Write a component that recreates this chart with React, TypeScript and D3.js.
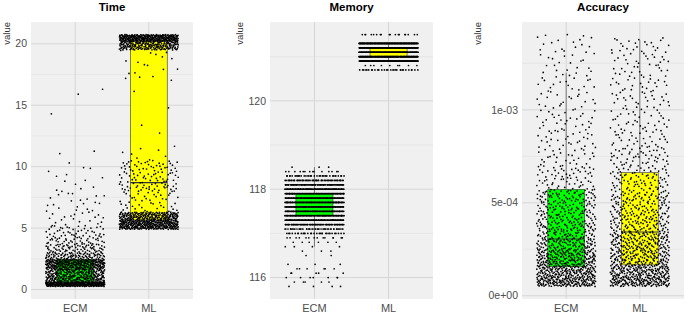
import React from "react";
import * as d3 from "d3";

// ---------- DATA ----------
const categories = ["ECM", "ML"];

// Time: bins [lo, hi, count]
const timeECMBins: [number, number, number][] = [
  [0.25, 0.6, 300], [0.6, 1.1, 150], [1.1, 1.7, 150], [1.7, 2.1, 150], [2.1, 2.45, 150],
  [2.45, 3.0, 90], [3.0, 3.7, 70], [3.7, 4.5, 50], [4.5, 5.2, 30], [5.2, 6.5, 22],
  [6.5, 8.0, 18], [8.0, 10.0, 12], [10.0, 11.5, 3],
  [14.3, 14.3, 1], [15.9, 15.9, 1], [16.3, 16.3, 1],
];
const timeMLBins: [number, number, number][] = [
  [4.9, 5.65, 320], [5.65, 6.3, 200], [6.3, 8.0, 45], [8.0, 8.7, 35],
  [8.7, 10.5, 75], [10.5, 11.7, 8], [11.7, 17.0, 4], [17.0, 19.5, 18], [19.5, 20.2, 195],
  [20.2, 20.75, 300],
];
// Memory: discrete rows [value, count]
const memECMRows: [number, number][] = [
  [118.5, 3], [118.4, 14], [118.3, 35], [118.2, 55], [118.1, 75], [118.0, 85], [117.9, 85],
  [117.8, 85], [117.7, 85], [117.6, 85], [117.5, 85], [117.4, 85], [117.3, 85], [117.2, 75],
  [117.1, 45], [117.0, 30], [116.9, 14], [116.8, 6], [116.7, 4], [116.6, 3], [116.5, 2],
  [116.3, 3], [116.2, 6], [116.1, 5], [116.0, 7], [115.9, 5], [115.8, 4],
];
const memMLRows: [number, number][] = [
  [121.5, 18], [121.3, 160], [121.2, 160], [121.1, 160], [121.0, 160], [120.9, 160], [120.8, 9], [120.7, 30],
];
// Accuracy bins (values in units of 1e-4)
const accECMBins: [number, number, number][] = [
  [0.5, 1.0, 160], [1.0, 1.6, 160], [1.6, 2.0, 100], [2.0, 2.5, 110], [2.5, 3.05, 90],
  [3.05, 4.0, 120], [4.0, 5.0, 100], [5.0, 5.7, 70], [5.7, 7.0, 65], [7.0, 8.5, 45],
  [8.5, 10.0, 42], [10.0, 12.0, 42], [12.0, 14.1, 36],
];
const accMLBins: [number, number, number][] = [
  [0.5, 1.0, 150], [1.0, 1.66, 160], [1.66, 2.2, 100], [2.2, 2.8, 100], [2.8, 3.43, 100],
  [3.43, 4.5, 120], [4.5, 5.5, 100], [5.5, 6.62, 80], [6.62, 8.0, 70], [8.0, 9.5, 52],
  [9.5, 11.0, 45], [11.0, 12.5, 42], [12.5, 13.9, 40],
];

// Box stats [whiskerLow, Q1, median, Q3, whiskerHigh]
const timeBox = [[0.25, 0.6, 1.65, 2.45, 5.0], [4.9, 5.65, 8.7, 20.2, 20.75]];
const memBox = [[116.7, 117.4, 117.7, 117.9, 118.5], [120.9, 121.0, 121.1, 121.2, 121.3]];
const accBox = [[0.5e-4, 1.57e-4, 3.05e-4, 5.72e-4, 1.2e-3], [0.5e-4, 1.66e-4, 3.43e-4, 6.62e-4, 1.375e-3]];

const timeTicks = [0, 5, 10, 15, 20];
const timeMinor = [2.5, 7.5, 12.5, 17.5];
const memTicks = [116, 118, 120];
const memMinor = [117, 119, 121];
const accTicks = [0, 5e-4, 1e-3];
const accMinor = [2.5e-4, 7.5e-4, 1.25e-3];
const accTickLabels = ["0e+00", "5e-04", "1e-03"];
const titles = ["Time", "Memory", "Accuracy"];
const boxColors = ["#00FF00", "#FFFF00"];

// ---------- helpers (deterministic leaped-Halton jitter placement) ----------
function halton(i: number, b: number) {
  let f = 1, r = 0;
  while (i > 0) { f /= b; r += f * (i % b); i = Math.floor(i / b); }
  return r;
}
const LEAP = 31;
type Pt = { c: number; v: number; j: number };
function fromBins(bins: [number, number, number][], c: number, scale: number, seed: number): Pt[] {
  const out: Pt[] = [];
  let k = seed;
  bins.forEach(([lo, hi, n]) => {
    for (let i = 0; i < n; i++) {
      k++;
      const idx = k * LEAP;
      out.push({ c, v: (lo + (hi - lo) * halton(idx, 2)) * scale, j: halton(idx, 3) * 2 - 1 });
    }
  });
  return out;
}
function fromRows(rows: [number, number][], c: number, seed: number): Pt[] {
  const out: Pt[] = [];
  let k = seed;
  rows.forEach(([v, n]) => {
    for (let i = 0; i < n; i++) { k++; out.push({ c, v, j: halton(k * LEAP, 3) * 2 - 1 }); }
  });
  return out;
}

const panels = [
  {
    x0: 31, x1: 193, yTitleX: 10,
    points: [...fromBins(timeECMBins, 1, 1, 10), ...fromBins(timeMLBins, 2, 1, 5000)],
    box: timeBox, ticks: timeTicks, minor: timeMinor, labels: timeTicks.map(String),
  },
  {
    x0: 270, x1: 433, yTitleX: 243,
    points: [...fromRows(memECMRows, 1, 20), ...fromRows(memMLRows, 2, 3000)],
    box: memBox, ticks: memTicks, minor: memMinor, labels: memTicks.map(String),
  },
  {
    x0: 522, x1: 684, yTitleX: 481,
    points: [...fromBins(accECMBins, 1, 1e-4, 30), ...fromBins(accMLBins, 2, 1e-4, 7000)],
    box: accBox, ticks: accTicks, minor: accMinor, labels: accTickLabels,
  },
];

const TOP = 22, BOTTOM = 299;
const FONT = "'Liberation Sans', Arial, sans-serif";

export default function App() {
  return (
    <svg width={685} height={314} style={{ position: "absolute", left: 0, top: 0, background: "#fff" }} fontFamily={FONT}>
      {panels.map((p, pi) => {
        const ext = d3.extent(p.points, (d) => d.v) as [number, number];
        const r = ext[1] - ext[0];
        const y = d3.scaleLinear().domain([ext[0] - 0.05 * r, ext[1] + 0.05 * r]).range([BOTTOM, TOP]);
        const x = d3.scaleLinear().domain([0.4, 2.6]).range([p.x0, p.x1]);
        const bw = 0.25;
        return (
          <g key={pi}>
            <rect x={p.x0} y={TOP} width={p.x1 - p.x0} height={BOTTOM - TOP} fill="#F0F0F0" />
            {p.minor.map((t) => (
              <line key={"m" + t} x1={p.x0} x2={p.x1} y1={y(t)} y2={y(t)} stroke="#E0E0E0" strokeWidth={0.6} />
            ))}
            {p.ticks.map((t) => (
              <line key={"t" + t} x1={p.x0} x2={p.x1} y1={y(t)} y2={y(t)} stroke="#D6D6D6" strokeWidth={1} />
            ))}
            {categories.map((c, ci) => (
              <line key={c} x1={x(ci + 1)} x2={x(ci + 1)} y1={TOP} y2={BOTTOM} stroke="#D6D6D6" strokeWidth={1} />
            ))}
            {p.box.map((b, ci) => {
              const cx = x(ci + 1);
              return (
                <g key={"b" + ci}>
                  <line x1={cx} x2={cx} y1={y(b[0])} y2={y(b[1])} stroke="#333" strokeWidth={0.6} />
                  <line x1={cx} x2={cx} y1={y(b[3])} y2={y(b[4])} stroke="#333" strokeWidth={0.6} />
                  <rect x={x(ci + 1 - bw)} width={x(ci + 1 + bw) - x(ci + 1 - bw)} y={y(b[3])} height={y(b[1]) - y(b[3])}
                    fill={boxColors[ci]} stroke="#333" strokeWidth={0.6} />
                  <line x1={x(ci + 1 - bw)} x2={x(ci + 1 + bw)} y1={y(b[2])} y2={y(b[2])} stroke="#333" strokeWidth={1.1} />
                </g>
              );
            })}
            {p.points.map((d, i) => (
              <circle key={i} cx={x(d.c + d.j * 0.4)} cy={y(d.v)} r={0.85} fill="#000" />
            ))}
            {p.ticks.map((t, ti) => (
              <text key={"l" + t} x={p.x0 - 4} y={y(t)} dy="0.35em" textAnchor="end" fontSize={10.5} fill="#4D4D4D">{p.labels[ti]}</text>
            ))}
            {categories.map((c, ci) => (
              <text key={"x" + c} x={x(ci + 1)} y={312} textAnchor="middle" fontSize={11} fill="#4D4D4D">{c}</text>
            ))}
            <text x={(p.x0 + p.x1) / 2} y={11} textAnchor="middle" fontSize={11.5} fontWeight="bold" fill="#000">{titles[pi]}</text>
            <text transform={`translate(${p.yTitleX},${TOP}) rotate(-90)`} textAnchor="end" fontSize={9.5} fill="#333">value</text>
          </g>
        );
      })}
    </svg>
  );
}
